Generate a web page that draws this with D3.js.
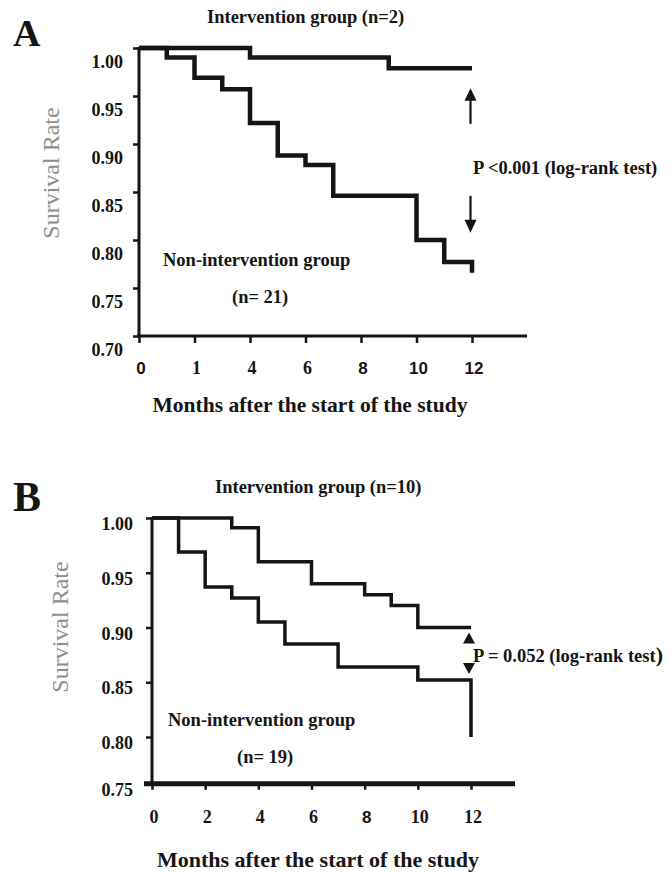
<!DOCTYPE html>
<html>
<head>
<meta charset="utf-8">
<script src="https://cdn.jsdelivr.net/npm/d3@7/dist/d3.min.js"></script>
<style>
  html, body { margin: 0; padding: 0; background: #fff; }
  svg { display: block; }
</style>
</head>
<body>
<svg id="chart" width="670" height="874"></svg>
<script>
// ---------------- DATA ----------------
// Panel A
const monthsAInt = [0, 4, 9, 12];
const survAInt   = [1.00, 0.99, 0.979, 0.979];
const monthsANon = [0, 1, 2, 3, 4, 5, 6, 7, 10, 11, 12, 12];
const survANon   = [1.00, 0.99, 0.969, 0.957, 0.922, 0.888, 0.878, 0.846, 0.80, 0.777, 0.777, 0.766];
const yTicksA    = [1.00, 0.95, 0.90, 0.85, 0.80, 0.75, 0.70];
const xTicksA    = [0, 2, 4, 6, 8, 10, 12];
const xLabelsA   = ["0", "1", "4", "6", "8", "10", "12"];

// Panel B
const monthsBInt = [0, 3, 4, 6, 8, 9, 10, 12];
const survBInt   = [1.00, 0.991, 0.960, 0.940, 0.930, 0.920, 0.900, 0.900];
const monthsBNon = [0, 1, 2, 3, 4, 5, 7, 10, 12, 12];
const survBNon   = [1.00, 0.969, 0.937, 0.927, 0.905, 0.885, 0.864, 0.852, 0.852, 0.80];
const yTicksB    = [1.00, 0.95, 0.90, 0.85, 0.80, 0.75];
const xTicksB    = [0, 2, 4, 6, 8, 10, 12];
const xLabelsB   = ["0", "2", "4", "6", "8", "10", "12"];

// ---------------- DRAWING ----------------
const SERIF = "'Liberation Serif', 'Times New Roman', Times, serif";
const SANS  = "'Liberation Sans', Arial, Helvetica, sans-serif";
const INK = "#151515";

const svg = d3.select("#chart");

function drawPanel(c) {
  const g = svg.append("g");
  const x = d3.scaleLinear().domain([0, 12]).range([c.x0, c.x12]);
  const y = d3.scaleLinear().domain(c.yDom).range(c.yRange);
  const axisY = y(c.yMin) + c.floorShift;   // where the x axis line is drawn
  const yTopPx = y(1.00);

  // panel letter
  g.append("text").attr("x", 13).attr("y", c.letterY)
    .attr("font-family", SERIF).attr("font-weight", "bold")
    .attr("font-size", c.letterSize).attr("fill", INK).text(c.letter);

  // title
  g.append("text").attr("x", c.titleX).attr("y", c.titleY)
    .attr("font-family", SERIF).attr("font-weight", "bold")
    .attr("font-size", 18.5).attr("fill", INK).text(c.title);

  // y axis ticks via d3 axis
  const yAx = g.append("g").attr("transform", `translate(${c.x0},0)`)
    .call(d3.axisLeft(y).tickValues(c.yTicks.filter(v => y(v) <= axisY + 0.5))
      .tickSize(6).tickFormat(""));
  yAx.select(".domain").remove();
  yAx.selectAll(".tick line").attr("stroke", INK).attr("stroke-width", 2.5);

  // y tick labels
  g.selectAll(".ylab").data(c.yTicks).enter().append("text")
    .attr("x", c.yLabelX)
    .attr("y", v => Math.min(y(v), axisY) + c.yLabelDy)
    .attr("text-anchor", "end")
    .attr("font-family", SERIF).attr("font-weight", "bold")
    .attr("font-size", 18).attr("fill", INK)
    .text(d3.format(".2f"));

  // y axis line
  g.append("line").attr("x1", c.x0).attr("x2", c.x0)
    .attr("y1", yTopPx - 1).attr("y2", axisY)
    .attr("stroke", INK).attr("stroke-width", 3);

  // x axis ticks via d3 axis
  const xAx = g.append("g").attr("transform", `translate(0,${axisY})`)
    .call(d3.axisBottom(x).tickValues(c.xTicks).tickSize(c.xTickLen).tickFormat(""));
  xAx.select(".domain").remove();
  xAx.selectAll(".tick line").attr("stroke", INK).attr("stroke-width", 2.5);

  // x axis line
  g.append("line").attr("x1", c.xAxisStart).attr("x2", c.xAxisEnd)
    .attr("y1", axisY).attr("y2", axisY)
    .attr("stroke", INK).attr("stroke-width", c.xAxisWidth);

  // x tick labels
  g.selectAll(".xlab").data(c.xTicks).enter().append("text")
    .attr("x", v => x(v) + 2)
    .attr("y", c.xLabelY)
    .attr("text-anchor", "middle")
    .attr("font-family", (v, i) => c.sansTicks.includes(i) ? SANS : SERIF)
    .attr("font-weight", "bold")
    .attr("font-size", (v, i) => c.sansTicks.includes(i) ? 17 : 18)
    .attr("fill", INK)
    .text((v, i) => c.xLabels[i]);

  // y axis title
  g.append("text")
    .attr("transform", `translate(${c.yTitleX},${c.yTitleY}) rotate(-90)`)
    .attr("text-anchor", "middle")
    .attr("font-family", SERIF).attr("font-size", 24)
    .attr("fill", "#8e8e8e").text("Survival Rate");

  // x axis title
  g.append("text").attr("x", c.xTitleX).attr("y", c.xTitleY)
    .attr("text-anchor", "middle")
    .attr("font-family", SERIF).attr("font-weight", "bold")
    .attr("font-size", c.xTitleSize).attr("fill", INK)
    .text("Months after the start of the study");

  // survival curves
  const line = d3.line().x(d => x(d[0])).y(d => y(d[1])).curve(d3.curveStepAfter);
  const curves = [
    d3.zip(c.intMonths, c.intSurv),
    d3.zip(c.nonMonths, c.nonSurv)
  ];
  g.selectAll(".curve").data(curves).enter().append("path")
    .attr("d", line)
    .attr("fill", "none").attr("stroke", INK)
    .attr("stroke-width", c.curveWidth)
    .attr("stroke-linejoin", "miter").attr("stroke-linecap", "butt");

  // group labels
  g.append("text").attr("x", c.nonLabelX).attr("y", c.nonLabelY)
    .attr("font-family", SERIF).attr("font-weight", "bold")
    .attr("font-size", 18.5).attr("fill", INK).text("Non-intervention group");
  g.append("text").attr("x", c.nLabelX).attr("y", c.nLabelY)
    .attr("font-family", SERIF).attr("font-weight", "bold")
    .attr("font-size", 18.5).attr("fill", INK).text(c.nLabel);

  return { g, x, y };
}

// ---- Panel A ----
const A = drawPanel({
  letter: "A", letterY: 46, letterSize: 38,
  title: "Intervention group (n=2)", titleX: 207, titleY: 23,
  x0: 139, x12: 472, yDom: [0.70, 1.00], yRange: [336, 48], yMin: 0.70, floorShift: 0,
  yTicks: yTicksA, yLabelX: 123, yLabelDy: 20,
  xTicks: xTicksA, xLabels: xLabelsA, sansTicks: [0, 4, 5, 6],
  xTickLen: 7, xAxisStart: 137, xAxisEnd: 527, xAxisWidth: 3, xLabelY: 374,
  yTitleX: 59, yTitleY: 173,
  xTitleX: 310, xTitleY: 412, xTitleSize: 21.5,
  intMonths: monthsAInt, intSurv: survAInt, nonMonths: monthsANon, nonSurv: survANon,
  curveWidth: 4.5,
  nonLabelX: 163, nonLabelY: 266, nLabel: "(n= 21)", nLabelX: 232, nLabelY: 303
});

// arrows for A
(function () {
  const g = A.g, x = A.x, y = A.y;
  const ax = x(12) - 1.5;
  g.append("line").attr("x1", ax).attr("x2", ax).attr("y1", y(0.921)).attr("y2", y(0.950))
    .attr("stroke", INK).attr("stroke-width", 2.2);
  g.append("path")
    .attr("d", `M${ax},${y(0.958)} L${ax - 6},${y(0.945)} L${ax + 6},${y(0.945)} Z`)
    .attr("fill", INK);
  g.append("line").attr("x1", ax).attr("x2", ax).attr("y1", y(0.846)).attr("y2", y(0.818))
    .attr("stroke", INK).attr("stroke-width", 2.2);
  g.append("path")
    .attr("d", `M${ax},${y(0.8075)} L${ax - 6},${y(0.821)} L${ax + 6},${y(0.821)} Z`)
    .attr("fill", INK);
  g.append("text").attr("x", 473).attr("y", 174)
    .attr("font-family", SERIF).attr("font-weight", "bold")
    .attr("font-size", 18.5).attr("fill", INK).text("P <0.001 (log-rank test)");
})();

// ---- Panel B ----
const B = drawPanel({
  letter: "B", letterY: 511, letterSize: 42,
  title: "Intervention group (n=10)", titleX: 215, titleY: 493,
  x0: 152, x12: 471, yDom: [0.80, 1.00], yRange: [737, 518], yMin: 0.75, floorShift: -8,
  yTicks: yTicksB, yLabelX: 133, yLabelDy: 12,
  xTicks: xTicksB, xLabels: xLabelsB, sansTicks: [4],
  xTickLen: 6, xAxisStart: 144, xAxisEnd: 515, xAxisWidth: 5, xLabelY: 823,
  yTitleX: 68, yTitleY: 627,
  xTitleX: 318, xTitleY: 867, xTitleSize: 22,
  intMonths: monthsBInt, intSurv: survBInt, nonMonths: monthsBNon, nonSurv: survBNon,
  curveWidth: 3.5,
  nonLabelX: 168, nonLabelY: 726, nLabel: "(n= 19)", nLabelX: 237, nLabelY: 763
});

// triangles for B
(function () {
  const g = B.g, x = B.x, y = B.y;
  const ax = x(12) - 2;
  g.append("path")
    .attr("d", `M${ax},${y(0.8955)} L${ax - 6},${y(0.8855)} L${ax + 6},${y(0.8855)} Z`)
    .attr("fill", INK);
  g.append("path")
    .attr("d", `M${ax - 6},${y(0.8675)} L${ax + 6},${y(0.8675)} L${ax},${y(0.8575)} Z`)
    .attr("fill", INK);
  const t = g.append("text").attr("x", 473).attr("y", 662)
    .attr("font-family", SERIF).attr("font-weight", "bold")
    .attr("font-size", 18.5).attr("fill", INK);
  t.append("tspan").text("P = 0.052 (log-rank test");
  t.append("tspan").attr("font-size", 22).text(")");
})();
</script>
</body>
</html>
